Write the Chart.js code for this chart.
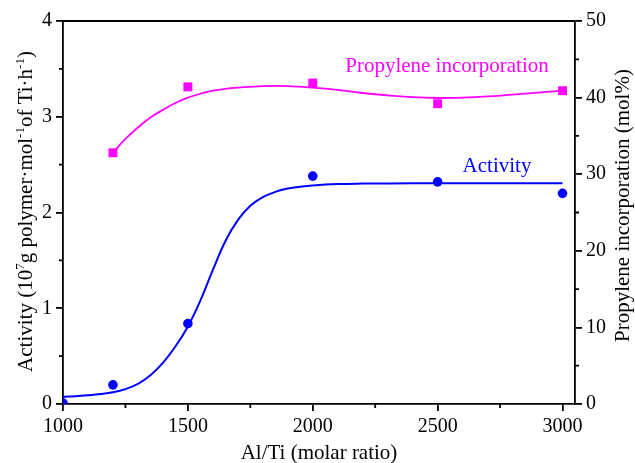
<!DOCTYPE html>
<html>
<head>
<meta charset="utf-8">
<script src="https://cdn.jsdelivr.net/npm/chart.js@4.4.1/dist/chart.umd.min.js"></script>
<style>
  html, body { margin: 0; padding: 0; background: #fff; }
  #wrap { width: 635px; height: 463px; }
</style>
</head>
<body>
<div id="wrap"><canvas id="chart" width="635" height="463"></canvas></div>
<script>
const ratios = [1000, 1200, 1500, 2000, 2500, 3000];
const activity = [0.01, 0.2, 0.84, 2.38, 2.32, 2.2];
const propRatios = [1200, 1500, 2000, 2500, 3000];
const propylene = [32.8, 41.4, 41.9, 39.2, 40.9];

// fitted curves
const activityFitX = [1000, 1050, 1100, 1150, 1200, 1250, 1300, 1350, 1400, 1450, 1500, 1550, 1600, 1650, 1700, 1750, 1800, 1850, 1900, 1950, 2000, 2100, 2200, 2300, 2500, 2750, 3000];
const activityFitY = [0.075, 0.082, 0.092, 0.104, 0.122, 0.155, 0.21, 0.3, 0.43, 0.6, 0.81, 1.08, 1.4, 1.7, 1.92, 2.07, 2.16, 2.215, 2.25, 2.27, 2.283, 2.297, 2.302, 2.304, 2.305, 2.305, 2.305];
const propFitX = [1200, 1250, 1300, 1350, 1400, 1450, 1500, 1550, 1600, 1650, 1700, 1800, 1900, 2000, 2100, 2200, 2300, 2400, 2500, 2600, 2700, 2800, 2900, 3000];
const propFitY = [32.8, 34.6, 36.1, 37.4, 38.4, 39.3, 40.0, 40.5, 40.9, 41.15, 41.3, 41.5, 41.5, 41.3, 41.0, 40.6, 40.3, 40.05, 39.95, 40.0, 40.15, 40.4, 40.65, 40.9];

const xTicks = [1000, 1500, 2000, 2500, 3000];
const xMinor = [1250, 1750, 2250, 2750];
const yTicks = [0, 1, 2, 3, 4];
const yMinor = [0.5, 1.5, 2.5, 3.5];
const y2Ticks = [0, 10, 20, 30, 40, 50];
const y2Minor = [5, 15, 25, 35, 45];

const BLUE = "#0000ff";
const PINK = "#ff00ff";
const FONT = "'Liberation Serif', 'Times New Roman', serif";

function pairs(xs, ys) {
  return xs.map((x, i) => ({ x, y: ys[i] }));
}

function axis(min, max, ticks, position, fit) {
  return {
    type: "linear",
    position,
    min,
    max,
    afterBuildTicks: (s) => { s.ticks = ticks.map((v) => ({ value: v })); },
    afterFit: fit,
    grid: { drawOnChartArea: false, color: "#000", lineWidth: 1.8, tickLength: 7 },
    border: { color: "#000", width: 1.8 },
    ticks: { color: "#000", font: { family: FONT, size: 20 }, padding: 4, maxRotation: 0, callback: (v) => String(v) }
  };
}

function drawLeftTitle(ctx) {
  const parts = [["Activity (10", false], ["7", true], ["g polymer\u00b7mol", false], ["-1", true], ["of Ti\u00b7h", false], ["-1", true], [")", false]];
  const big = "21px " + FONT;
  const small = "13px " + FONT;
  let total = 0;
  parts.forEach((p) => {
    ctx.font = p[1] ? small : big;
    total += ctx.measureText(p[0]).width;
  });
  ctx.save();
  ctx.translate(32, 211.5);
  ctx.rotate(-Math.PI / 2);
  let x = -total / 2;
  parts.forEach((p) => {
    ctx.font = p[1] ? small : big;
    ctx.fillText(p[0], x, p[1] ? -8 : 0);
    x += ctx.measureText(p[0]).width;
  });
  ctx.restore();
}

const extras = {
  id: "extras",
  afterDraw(chart) {
    const { ctx, chartArea: a, scales } = chart;
    ctx.save();
    ctx.strokeStyle = "#000";
    ctx.lineWidth = 1.8;
    ctx.beginPath();
    ctx.moveTo(a.left, a.top);
    ctx.lineTo(a.right, a.top);
    xMinor.forEach((v) => {
      const px = scales.x.getPixelForValue(v);
      ctx.moveTo(px, a.bottom);
      ctx.lineTo(px, a.bottom + 4);
    });
    yMinor.forEach((v) => {
      const py = scales.y.getPixelForValue(v);
      ctx.moveTo(a.left, py);
      ctx.lineTo(a.left - 4, py);
    });
    y2Minor.forEach((v) => {
      const py = scales.y2.getPixelForValue(v);
      ctx.moveTo(a.right, py);
      ctx.lineTo(a.right + 4, py);
    });
    ctx.stroke();

    ctx.fillStyle = "#000";
    ctx.textBaseline = "alphabetic";
    ctx.font = "21px " + FONT;
    ctx.textAlign = "center";
    ctx.fillText("Al/Ti (molar ratio)", (a.left + a.right) / 2, 459);

    ctx.save();
    ctx.textAlign = "left";
    ctx.translate(629, 342);
    ctx.rotate(-Math.PI / 2);
    ctx.fillText("Propylene incorporation (mol%)", 0, 0);
    ctx.restore();

    ctx.textAlign = "left";
    drawLeftTitle(ctx);

    ctx.font = "21px " + FONT;
    ctx.fillStyle = PINK;
    ctx.fillText("Propylene incorporation", scales.x.getPixelForValue(2130), scales.y2.getPixelForValue(43.3));
    ctx.fillStyle = BLUE;
    ctx.fillText("Activity", scales.x.getPixelForValue(2600), scales.y.getPixelForValue(2.42));
    ctx.restore();
  }
};

new Chart(document.getElementById("chart"), {
  type: "scatter",
  data: {
    datasets: [
      { data: pairs(ratios, activity), yAxisID: "y", pointStyle: "circle", pointRadius: 4.8, backgroundColor: BLUE, borderWidth: 0, order: 0 },
      { data: pairs(propRatios, propylene), yAxisID: "y2", pointStyle: "rect", pointRadius: 6.3, backgroundColor: PINK, borderWidth: 0, order: 0 },
      { data: pairs(activityFitX, activityFitY), yAxisID: "y", showLine: true, pointRadius: 0, borderColor: BLUE, borderWidth: 2, tension: 0.4, order: 1 },
      { data: pairs(propFitX, propFitY), yAxisID: "y2", showLine: true, pointRadius: 0, borderColor: PINK, borderWidth: 1.8, tension: 0.4, order: 1 }
    ]
  },
  options: {
    responsive: false,
    animation: false,
    events: [],
    layout: { padding: { top: 21, left: 0, right: 0, bottom: 0 } },
    plugins: { legend: { display: false }, tooltip: { enabled: false } },
    scales: {
      x: axis(1000, 3050, xTicks, "bottom", (s) => { s.height = 59; }),
      y: axis(0, 4, yTicks, "left", (s) => { s.width = 63; }),
      y2: axis(0, 50, y2Ticks, "right", (s) => { s.width = 60; })
    }
  },
  plugins: [extras]
});
</script>
</body>
</html>
